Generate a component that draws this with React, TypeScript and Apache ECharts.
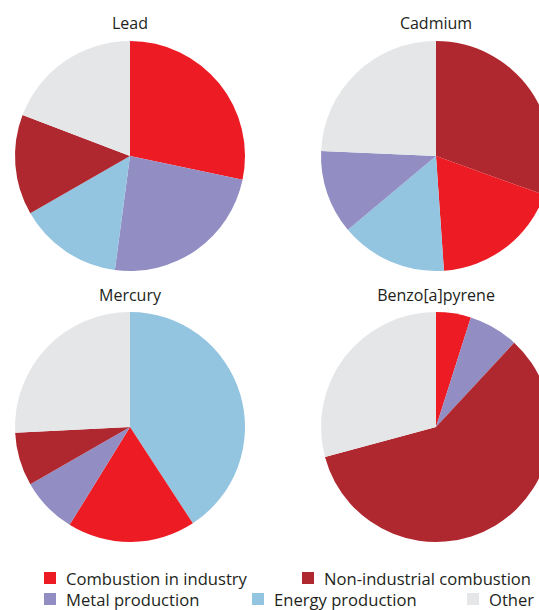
import React, { useEffect, useRef } from "react";
import * as echarts from "echarts";

const sourceNames = [
  "Combustion in industry",
  "Non-industrial combustion",
  "Metal production",
  "Energy production",
  "Other",
];
const sourceColors: Record<string, string> = {
  "Combustion in industry": "#ED1C24",
  "Non-industrial combustion": "#B0282F",
  "Metal production": "#928DC3",
  "Energy production": "#93C4E0",
  "Other": "#E5E6E8",
};

const pollutants = ["Lead", "Cadmium", "Mercury", "Benzo[a]pyrene"];

// shares (%) in clockwise order from 12 o'clock
const leadNames = ["Combustion in industry", "Metal production", "Energy production", "Non-industrial combustion", "Other"];
const leadValues = [28.3, 23.8, 14.6, 14.1, 19.2];

const cadmiumNames = ["Non-industrial combustion", "Combustion in industry", "Energy production", "Metal production", "Other"];
const cadmiumValues = [30.5, 18.4, 15.0, 11.8, 24.3];

const mercuryNames = ["Energy production", "Combustion in industry", "Metal production", "Non-industrial combustion", "Other"];
const mercuryValues = [40.8, 18.0, 7.9, 7.5, 25.8];

const bapNames = ["Combustion in industry", "Metal production", "Non-industrial combustion", "Other"];
const bapValues = [4.9, 7.0, 58.9, 29.2];

export default function App() {
  const ref = useRef<HTMLDivElement>(null);
  useEffect(() => {
    if (!ref.current) return;
    const chart = echarts.init(ref.current, undefined, { renderer: "svg" });
    const font = "Open Sans";
    const centers = [
      [130, 156],
      [436, 156],
      [130, 427],
      [436, 427],
    ];
    const titleTops = [15, 15, 287, 287];
    const datasets = [
      [leadNames, leadValues],
      [cadmiumNames, cadmiumValues],
      [mercuryNames, mercuryValues],
      [bapNames, bapValues],
    ] as [string[], number[]][];

    const series = datasets.map(([names, values], i) => ({
      type: "pie",
      name: pollutants[i],
      center: centers[i],
      radius: [0, 115],
      startAngle: 90,
      clockwise: true,
      label: { show: false },
      labelLine: { show: false },
      emphasis: { disabled: true },
      silent: true,
      itemStyle: { borderWidth: 0 },
      data: names.map((n, j) => ({
        name: n,
        value: values[j],
        itemStyle: { color: sourceColors[n] },
      })),
    }));

    const titles = pollutants.map((p, i) => ({
      text: p,
      left: centers[i][0],
      top: titleTops[i],
      textAlign: "center",
      padding: 0,
      textStyle: { fontFamily: font, fontSize: 16, fontWeight: "normal", color: "#231F20" },
    }));

    const legendPos: [string, number, number][] = [
      ["Combustion in industry", 44, 569],
      ["Non-industrial combustion", 302, 569],
      ["Metal production", 44, 590],
      ["Energy production", 252, 590],
      ["Other", 467, 590],
    ];
    const legends = legendPos.map(([n, x, y]) => ({
      data: [n],
      left: x,
      top: y,
      padding: 0,
      itemWidth: 12,
      itemHeight: 12,
      icon: "rect",
      selectedMode: false,
      textStyle: {
        fontFamily: font,
        fontSize: 16.6,
        lineHeight: 18,
        color: "#231F20",
        padding: [0, 0, 0, 5],
      },
    }));

    chart.setOption({
      animation: false,
      backgroundColor: "#ffffff",
      title: titles,
      legend: legends,
      series,
    });
    return () => chart.dispose();
  }, []);
  return (
    <div
      ref={ref}
      style={{ position: "fixed", left: 0, top: 0, width: 539, height: 610 }}
    />
  );
}
